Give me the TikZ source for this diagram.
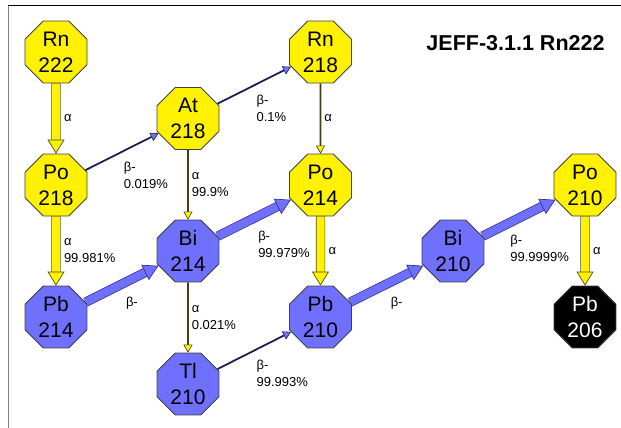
\documentclass[tikz,border=0pt]{standalone}
\usepackage{fontspec}
\setmainfont{Liberation Sans}
\usetikzlibrary{shapes.geometric,arrows.meta,backgrounds}

\definecolor{blu}{RGB}{112,112,255}
\definecolor{nucedge}{RGB}{64,64,64}
\definecolor{olivedk}{RGB}{64,64,16}
\definecolor{navydk}{RGB}{32,32,80}
\definecolor{yeledge}{RGB}{80,80,30}
\definecolor{bluedge}{RGB}{50,50,150}

\tikzset{
	nuc/.style={regular polygon, regular polygon sides=8, minimum size=67pt, inner sep=0pt,
		draw=nucedge, line width=0.8pt, align=center, font=\fontsize{21}{26}\selectfont},
	ynuc/.style={nuc, fill=yellow},
	bnuc/.style={nuc, fill=blu},
	knuc/.style={nuc, fill=black, text=white},
	title/.style={font=\bfseries\fontsize{21.5}{26}\selectfont},
	lbl/.style={font=\fontsize{13}{17}\selectfont, align=left, inner sep=1pt},
	vlbl/.style={lbl, anchor=west},
	dlbl/.style={lbl, anchor=north west},
	fatyel/.style={draw=yellow, line width=2pt,
		-{Triangle[length=14pt, width=17pt, line width=0.7pt, color=yeledge, fill=yellow]},
		preaction={draw=yeledge, double=yellow, double distance=8pt, line width=0.7pt, shorten >=12pt, -}},
	fatblu/.style={draw=blu, line width=2pt,
		-{Triangle[length=15pt, width=17pt, line width=0.7pt, color=bluedge, fill=blu]},
		preaction={draw=bluedge, double=blu, double distance=8pt, line width=0.7pt, shorten >=13pt, -}},
	thinalpha/.style={draw=olivedk, line width=1.8pt,
		-{Triangle[length=8pt, width=9pt, line width=0.6pt, fill=yellow]}},
	thinbeta/.style={draw=navydk, line width=1.8pt,
		-{Triangle[length=8pt, width=9pt, line width=0.6pt, fill=blu]}}
}

\begin{document}
\begin{tikzpicture}[x=1pt, y=-1pt]
	\useasboundingbox (0,0) rectangle (621,428);
	% frame
	\draw[black, line width=1pt] (8,6) -- (621,6);
	\draw[gray, line width=1.4pt] (8.5,6) -- (8.5,428);
	\node[title] (ttl) at (515.5,43) {JEFF-3.1.1 Rn222};

	% nuclides
	\node[ynuc] (rn222) at (56,52) {Rn\\222};
	\node[ynuc] (po218) at (56,185) {Po\\218};
	\node[ynuc] (at218) at (188,118.5) {At\\218};
	\node[ynuc] (rn218) at (320.5,52) {Rn\\218};
	\node[ynuc] (po214) at (320.5,185) {Po\\214};
	\node[ynuc] (po210) at (585,185) {Po\\210};
	\node[bnuc] (pb214) at (56,317) {Pb\\214};
	\node[bnuc] (bi214) at (188,251) {Bi\\214};
	\node[bnuc] (tl210) at (188,384) {Tl\\210};
	\node[bnuc] (pb210) at (320.5,317) {Pb\\210};
	\node[bnuc] (bi210) at (453,251) {Bi\\210};
	\node[knuc] (pb206) at (585,317) {Pb\\206};

	% decays
	\begin{scope}[on background layer]
		\draw[fatyel] (rn222) -- (po218) node[vlbl, pos=0.5, xshift=6pt] {α};
		\draw[fatyel] (po218) -- (pb214) node[vlbl, pos=0.5, xshift=6pt] {α\\99.981\%};
		\draw[fatyel] (po214) -- (pb210) node[vlbl, pos=0.5, xshift=6pt] {α};
		\draw[fatyel] (po210) -- (pb206) node[vlbl, pos=0.5, xshift=6pt] {α};
		\draw[thinalpha] (at218) -- (bi214) node[vlbl, pos=0.5, xshift=2pt] {α\\99.9\%};
		\draw[thinalpha] (rn218) -- (po214) node[vlbl, pos=0.5, xshift=2pt] {α};
		\draw[thinalpha] (bi214) -- (tl210) node[vlbl, pos=0.5, xshift=2pt] {α\\0.021\%};
		\draw[thinbeta] (po218) -- (at218) node[dlbl, pos=0.5, yshift=-8pt] {β-\\0.019\%};
		\draw[thinbeta] (at218) -- (rn218) node[dlbl, pos=0.5, xshift=0.5pt, yshift=-8pt] {β-\\0.1\%};
		\draw[thinbeta] (tl210) -- (pb210) node[dlbl, pos=0.5, xshift=0.5pt, yshift=-8pt] {β-\\99.993\%};
		\draw[fatblu] (pb214) -- (bi214) node[dlbl, pos=0.5, xshift=2pt, yshift=-11pt] {β-};
		\draw[fatblu] (bi214) -- (po214) node[dlbl, pos=0.5, xshift=2pt, yshift=-11pt] {β-\\99.979\%};
		\draw[fatblu] (pb210) -- (bi210) node[dlbl, pos=0.5, xshift=2pt, yshift=-11pt] {β-};
		\draw[fatblu] (bi210) -- (po210) node[dlbl, pos=0.34, xshift=1pt, yshift=-9pt] {β-\\99.9999\%};
	\end{scope}
\end{tikzpicture}
\end{document}
